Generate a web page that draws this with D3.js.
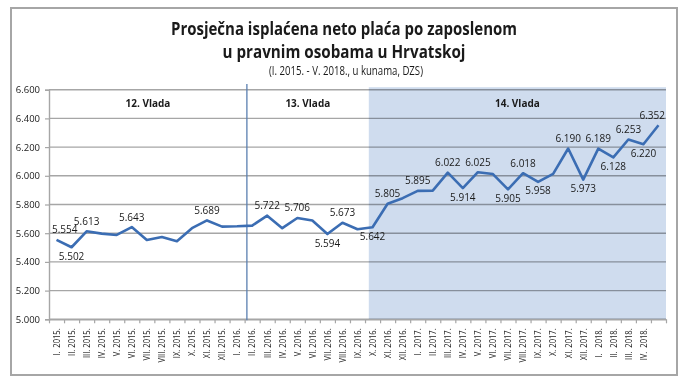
<!DOCTYPE html>
<html>
<head>
<meta charset="utf-8">
<script src="https://cdn.jsdelivr.net/npm/d3@7"></script>
<style>
  body { margin: 0; background: #fff; }
  text { font-family: "Open Sans", sans-serif; fill: #1a1a1a; }
</style>
</head>
<body>
<div class="chart"></div>
<script>
// Data
const months = [
  "I.  2015.", "II. 2015.", "III. 2015.", "IV. 2015.", "V. 2015.", "VI. 2015.",
  "VII. 2015.", "VIII. 2015.", "IX. 2015.", "X. 2015.", "XI. 2015.", "XII. 2015.",
  "I.  2016.", "II. 2016.", "III. 2016.", "IV. 2016.", "V. 2016.", "VI. 2016.",
  "VII. 2016.", "VIII. 2016.", "IX. 2016.", "X. 2016.", "XI. 2016.", "XII. 2016.",
  "I.  2017.", "II. 2017.", "III. 2017.", "IV. 2017.", "V. 2017.", "VI. 2017.",
  "VII. 2017.", "VIII. 2017.", "IX. 2017.", "X. 2017.", "XI. 2017.", "XII. 2017.",
  "I.   2018.", "II.  2018.", "III.  2018.", "IV.  2018.", ""
];
const wages = [
  5554, 5502, 5613, 5597, 5588, 5643, 5553, 5574, 5544, 5635, 5689, 5646,
  5648, 5653, 5722, 5635, 5706, 5688, 5594, 5673, 5628, 5642, 5805, 5844,
  5895, 5897, 6022, 5914, 6025, 6012, 5905, 6018, 5958, 6014, 6190, 5973,
  6189, 6128, 6253, 6220, 6352
];
// months that carry a value label
const labelled = [0, 1, 2, 5, 10, 14, 16, 18, 19, 21, 22, 24, 26, 27, 28, 30, 31, 32, 34, 35, 36, 37, 38, 39, 40];
const yTicks = [5000, 5200, 5400, 5600, 5800, 6000, 6200, 6400, 6600];
// governments, start given in month index units
const govNames = ["12. Vlada", "13. Vlada", "14. Vlada"];
const govStart = [-0.5, 12.65, 20.75];

const titleLines = ["Prosječna isplaćena neto plaća po zaposlenom", "u pravnim osobama u Hrvatskoj"];
const subtitle = "(I. 2015. - V. 2018., u kunama, DZS)";

const W = 690, H = 389;
const plot = { left: 49, right: 666, top: 89.7, bottom: 319.3 };
const n = wages.length;

const hr = d3.formatLocale({ decimal: ",", thousands: ".", grouping: [3], currency: ["", ""] });
const fmt = hr.format(",.0f");

const svg = d3.select(".chart").append("svg")
  .attr("width", W)
  .attr("height", H);

// frame
svg.append("rect")
  .attr("x", 11).attr("y", 8)
  .attr("width", 666).attr("height", 367)
  .attr("fill", "#fff")
  .attr("stroke", "#a6a6a6")
  .attr("stroke-width", 2);

// Scales
const x = d3.scaleBand().domain(d3.range(n)).range([plot.left, plot.right]);
const cx = i => x(i) + x.bandwidth() / 2;
const pos = d3.scaleLinear().domain([0, n - 1]).range([cx(0), cx(n - 1)]);
const y = d3.scaleLinear().domain([5000, 6600]).range([plot.bottom, plot.top]);

// 14. Vlada shading
svg.append("rect")
  .attr("x", pos(govStart[2]))
  .attr("y", plot.top - 2.5)
  .attr("width", plot.right - pos(govStart[2]))
  .attr("height", plot.bottom - plot.top + 2.5)
  .attr("fill", "#cfdcee");

// gridlines
svg.append("g")
  .selectAll("line")
  .data(yTicks)
  .join("line")
    .attr("x1", plot.left).attr("x2", plot.right)
    .attr("y1", d => y(d)).attr("y2", d => y(d))
    .attr("stroke", "#a6a6a6")
    .attr("stroke-width", 1.4)
    .style("mix-blend-mode", "multiply");

// y axis
const yAxis = d3.axisLeft(y).tickValues(yTicks).tickFormat(fmt).tickSize(4).tickPadding(5);
const gy = svg.append("g")
  .attr("transform", `translate(${plot.left},0)`)
  .call(yAxis);
gy.select(".domain").attr("stroke", "#a6a6a6").attr("stroke-width", 1.4);
gy.selectAll(".tick line").attr("stroke", "#a6a6a6").attr("stroke-width", 1.2);
gy.selectAll(".tick text").style("font-size", "9.5px").attr("fill", "#1a1a1a");

// x axis: ticks between months
const xb = d3.scaleLinear().domain([0, n]).range([plot.left, plot.right]);
const gx = svg.append("g")
  .attr("transform", `translate(0,${plot.bottom})`)
  .call(d3.axisBottom(xb).tickValues(d3.range(n + 1)).tickFormat("").tickSize(4).tickSizeOuter(0));
gx.select(".domain").attr("stroke", "#a6a6a6").attr("stroke-width", 1.4);
gx.selectAll(".tick line").attr("stroke", "#a6a6a6").attr("stroke-width", 1.2);

svg.append("g")
  .selectAll("text")
  .data(months)
  .join("text")
    .attr("transform", (d, i) => `translate(${cx(i)},${plot.bottom + 9}) rotate(-90)`)
    .attr("dy", "0.35em")
    .attr("text-anchor", "end")
    .attr("xml:space", "preserve")
    .style("font-size", "9.5px")
    .style("white-space", "pre")
    .text(d => d)
    .each(function (d) {
      if (d) this.setAttribute("textLength", this.getComputedTextLength() * 0.8);
    })
    .attr("lengthAdjust", "spacingAndGlyphs");

// government divider
svg.append("line")
  .attr("x1", pos(govStart[1])).attr("x2", pos(govStart[1]))
  .attr("y1", 84).attr("y2", plot.bottom + 1)
  .attr("stroke", "#5a7fb0")
  .attr("stroke-width", 1.3);

// government names
const govEdge = govStart.map((s, i) => i === 0 ? plot.left : pos(s)).concat([plot.right]);
svg.append("g")
  .selectAll("text")
  .data(govNames)
  .join("text")
    .attr("x", (d, i) => (govEdge[i] + govEdge[i + 1]) / 2)
    .attr("y", 106.5)
    .attr("text-anchor", "middle")
    .style("font-size", "10px")
    .style("font-weight", "bold")
    .text(d => d);

// line
const line = d3.line()
  .x((d, i) => cx(i))
  .y(d => y(d));

svg.append("path")
  .datum(wages)
  .attr("d", line)
  .attr("fill", "none")
  .attr("stroke", "#3b6db3")
  .attr("stroke-width", 2.6)
  .attr("stroke-linejoin", "round");

// value labels: below at local dips, above otherwise
const below = i => i > 0 && wages[i] <= wages[i - 1] + 20 && (i === n - 1 || wages[i] < wages[i + 1]);
svg.append("g")
  .selectAll("text")
  .data(labelled)
  .join("text")
    .attr("y", i => y(wages[i]) + (below(i) ? 9 : -10))
    .attr("dy", "0.35em")
    .attr("text-anchor", "middle")
    .style("font-size", "10px")
    .text(i => fmt(wages[i]))
    .attr("x", function (i) {
      const half = this.getComputedTextLength() / 2;
      return Math.max(plot.left + half + 3, Math.min(plot.right - half - 1, cx(i)));
    });

// titles
svg.append("text")
  .attr("x", 344).attr("y", 35)
  .attr("text-anchor", "middle")
  .style("font-size", "17.5px")
  .style("font-weight", "bold")
  .attr("textLength", 346)
  .attr("lengthAdjust", "spacingAndGlyphs")
  .text(titleLines[0]);

svg.append("text")
  .attr("x", 344).attr("y", 57.5)
  .attr("text-anchor", "middle")
  .style("font-size", "17.5px")
  .style("font-weight", "bold")
  .attr("textLength", 243)
  .attr("lengthAdjust", "spacingAndGlyphs")
  .text(titleLines[1]);

svg.append("text")
  .attr("x", 346).attr("y", 75)
  .attr("text-anchor", "middle")
  .style("font-size", "12px")
  .attr("textLength", 154)
  .attr("lengthAdjust", "spacingAndGlyphs")
  .text(subtitle);
</script>
</body>
</html>
